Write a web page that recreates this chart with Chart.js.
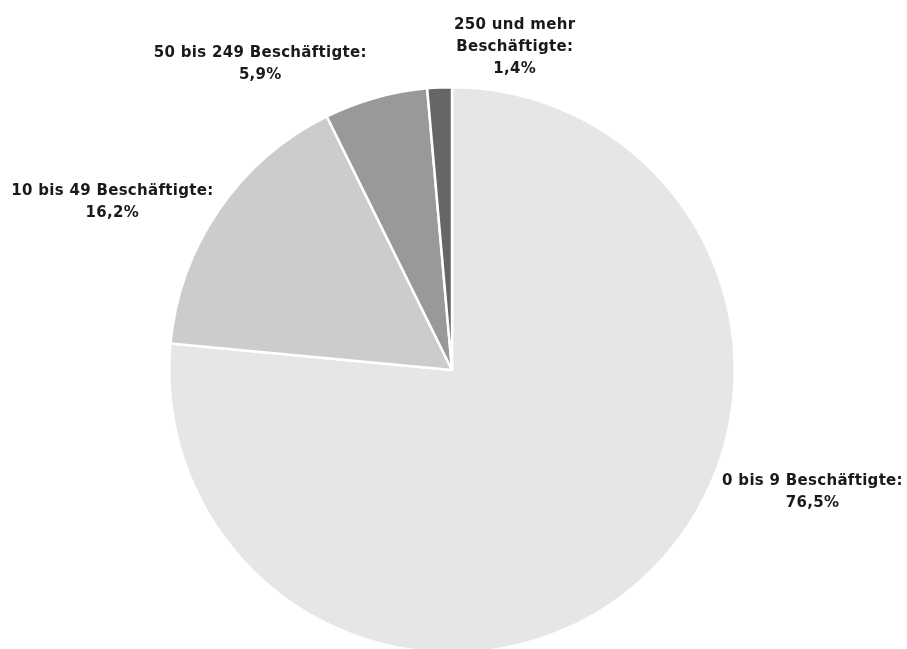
<!DOCTYPE html>
<html>
<head>
<meta charset="utf-8">
<script src="https://cdn.jsdelivr.net/npm/chart.js@4"></script>
<style>
    html, body { margin: 0; padding: 0; background: #ffffff; overflow: hidden; }
    #wrap { width: 907px; height: 660px; position: relative; }
</style>
</head>
<body>
<div id="wrap"><canvas id="sizeChart"></canvas></div>
<script>

const categories = [
    ['0 bis 9 Beschäftigte:'],
    ['10 bis 49 Beschäftigte:'],
    ['50 bis 249 Beschäftigte:'],
    ['250 und mehr', 'Beschäftigte:']
];
const shares = [76.5, 16.2, 5.9, 1.4];
const sliceColors = ['#e6e6e6', '#cccccc', '#999999', '#666666'];

// where each label sits: angle (deg, canvas coords) and distance as a factor of the radius
const labelAngles = [18.7, 206.3, 237.9, 281];
const labelDistances = [1.346, 1.34, 1.276, 1.162];

const formatShare = (v) => v.toFixed(1).replace('.', ',') + '%';

const outsideLabels = {
    id: 'outside_labels',
    afterDatasetsDraw: (chart) => {
        const ctx = chart.ctx;
        const meta = chart.getDatasetMeta(0);
        ctx.save();
        ctx.font = 'bold 15px "DejaVu Sans"';
        ctx.letterSpacing = '0.3px';
        ctx.fillStyle = '#1a1a1a';
        ctx.textAlign = 'center';
        ctx.textBaseline = 'middle';
        const lineHeight = 22;
        meta.data.forEach((arc, i) => {
            const lines = categories[i].concat([formatShare(shares[i])]);
            const a = labelAngles[i] * Math.PI / 180;
            const d = arc.outerRadius * labelDistances[i];
            const cx = arc.x + Math.cos(a) * d;
            const cy = arc.y + Math.sin(a) * d;
            const top = cy - (lines.length - 1) * lineHeight / 2;
            lines.forEach((line, j) => {
                ctx.fillText(line, cx, top + j * lineHeight);
            });
        });
        ctx.restore();
    }
};

new Chart(document.getElementById('sizeChart'), {
    type: 'pie',
    data: {
        labels: categories.map(c => c.join(' ')),
        datasets: [{
            data: shares,
            backgroundColor: sliceColors,
            borderColor: '#ffffff',
            borderWidth: 2.5
        }]
    },
    plugins: [outsideLabels],
    options: {
        responsive: true,
        maintainAspectRatio: false,
        animation: false,
        layout: {
            padding: { top: 86, bottom: 6, left: 167, right: 170 }
        },
        plugins: {
            legend: { display: false },
            tooltip: { enabled: false }
        }
    }
});
</script>
</body>
</html>
